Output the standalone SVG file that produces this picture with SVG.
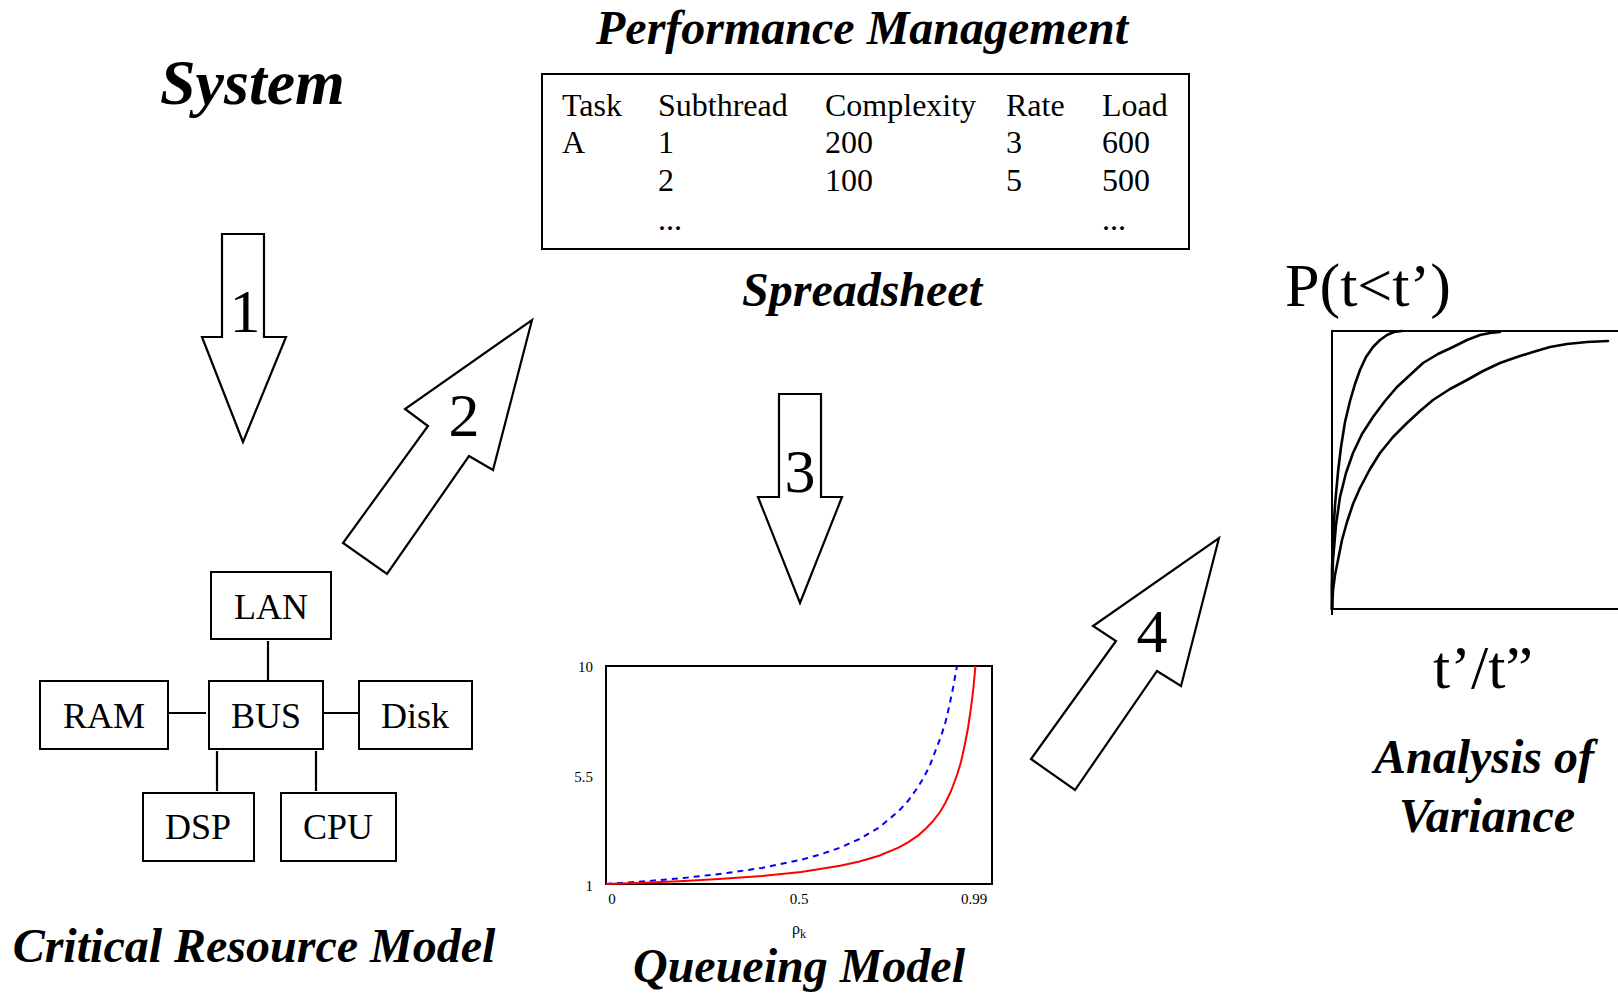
<svg xmlns="http://www.w3.org/2000/svg" width="1618" height="995" viewBox="0 0 1618 995">
<style>
text{font-family:"Liberation Serif","Times New Roman",serif;fill:#000}
.title{font-weight:bold;font-style:italic;font-size:48px;text-anchor:middle}
.box{fill:#fff;stroke:#000;stroke-width:2}
.lbl{font-size:36px;text-anchor:middle}
.tbl{font-size:32px}
.num{font-size:62px;text-anchor:middle}
.tick{font-size:15px}
.arrow{fill:#fff;stroke:#000;stroke-width:2.2;stroke-linejoin:miter}
.link{stroke:#000;stroke-width:2.2;fill:none}
.curve{fill:none;stroke:#000;stroke-width:2.6;stroke-linejoin:round;stroke-linecap:round}
.axis{fill:none;stroke:#000;stroke-width:2}
</style>
<rect width="1618" height="995" fill="#fff"/>

<g id="system-title">
<text x="160" y="104" style="font-weight:bold;font-style:italic;font-size:64px">System</text>
</g>

<g id="spreadsheet">
<text class="title" x="862" y="44">Performance Management</text>
<rect class="box" x="542" y="74" width="647" height="175"/>
<g class="tbl">
<text x="562" y="116">Task</text><text x="658" y="116">Subthread</text><text x="825" y="116">Complexity</text><text x="1006" y="116">Rate</text><text x="1102" y="116">Load</text>
<text x="562" y="153">A</text><text x="658" y="153">1</text><text x="825" y="153">200</text><text x="1006" y="153">3</text><text x="1102" y="153">600</text>
<text x="658" y="191">2</text><text x="825" y="191">100</text><text x="1006" y="191">5</text><text x="1102" y="191">500</text>
<text x="658" y="230">...</text><text x="1102" y="230">...</text>
</g>
<text class="title" x="862" y="306">Spreadsheet</text>
</g>

<g id="connectors">
<g id="step-arrows">
<polygon class="arrow" points="222,234 264,234 264,337 286,337 243,442 202,337 222,337"/>
<polygon class="arrow" points="532,320 493,470 469,456 387,574 343,543 428,426 405,409"/>
<polygon class="arrow" points="779,394 821,394 821,497 842,497 800,603 758,497 779,497"/>
<polygon class="arrow" points="1219,538 1181,686 1157,671 1075,790 1031,759 1116,641 1093,626"/>
<text class="num" x="245" y="332">1</text>
<text class="num" x="464" y="436">2</text>
<text class="num" x="800" y="492">3</text>
<text class="num" x="1152" y="652">4</text>
</g>
<g id="bus-links">
<line class="link" x1="268" y1="641" x2="268" y2="680"/>
<line class="link" x1="168" y1="713" x2="206" y2="713"/>
<line class="link" x1="324" y1="713" x2="359" y2="713"/>
<line class="link" x1="217" y1="751" x2="217" y2="791"/>
<line class="link" x1="316" y1="751" x2="316" y2="791"/>
</g>
</g>

<g id="node-lan"><rect class="box" x="211" y="572" width="120" height="67"/><text class="lbl" x="271" y="619">LAN</text></g>
<g id="node-ram"><rect class="box" x="40" y="681" width="128" height="68"/><text class="lbl" x="104" y="728">RAM</text></g>
<g id="node-bus"><rect class="box" x="209" y="681" width="114" height="68"/><text class="lbl" x="266" y="728">BUS</text></g>
<g id="node-disk"><rect class="box" x="359" y="681" width="113" height="68"/><text class="lbl" x="415" y="728">Disk</text></g>
<g id="node-dsp"><rect class="box" x="143" y="793" width="111" height="68"/><text class="lbl" x="198" y="839">DSP</text></g>
<g id="node-cpu"><rect class="box" x="281" y="793" width="115" height="68"/><text class="lbl" x="338" y="839">CPU</text></g>
<g id="crm-title"><text class="title" x="254" y="962">Critical Resource Model</text></g>

<g id="queueing-model">
<rect x="606" y="666" width="386" height="218" fill="#fff" stroke="#000" stroke-width="2"/>
<polyline fill="none" stroke="#0000ff" stroke-width="2" stroke-dasharray="6,5" points="606,884 645,881.3 684,877.9 723,873.6 762,867.9 801,859.8 820.5,854.4 840,847.7 859.5,839 879,827.5 898.5,811.3 908,801 918,787.1 924,777 929.7,765.8 935,752 941.4,735.2 945.5,722 949.2,706.4 953,688 957,666"/>
<polyline fill="none" stroke="#ff0000" stroke-width="2" points="606,884 645,882.7 684,881 723,878.8 762,875.9 801,871.9 820,869 840,865.8 859.5,861.5 879,855.7 898.5,847.7 908,842.3 918,835.6 926,828.5 933.6,820.4 940,812 945.3,803 951,791 957,775 961,762 964.8,744.7 968,728 970.7,709.8 973,692 975.5,666"/>
<g class="tick">
<text x="593" y="672" text-anchor="end">10</text>
<text x="593" y="782" text-anchor="end">5.5</text>
<text x="593" y="891" text-anchor="end">1</text>
<text x="612" y="904" text-anchor="middle">0</text>
<text x="799" y="904" text-anchor="middle">0.5</text>
<text x="974" y="904" text-anchor="middle">0.99</text>
<text x="799" y="934" text-anchor="middle" style="font-size:16px">ρ<tspan dy="4" style="font-size:12px">k</tspan></text>
</g>
<text class="title" x="799" y="982">Queueing Model</text>
</g>

<g id="variance-analysis">
<text x="1285" y="306" style="font-size:62px">P(t&lt;t’)</text>
<polyline class="axis" points="1618,331 1332,331 1332,615"/>
<line class="axis" x1="1331" y1="609" x2="1618" y2="609"/>
<polyline class="curve" points="1332,609 1332,570 1333,540 1335,505 1338,472 1341,447 1345,422 1350,401 1355,384 1360,370 1366,357 1373,347 1380,340 1387,335 1394,332 1402,331"/>
<polyline class="curve" points="1332,609 1332,585 1333,560 1336,525 1340,497 1346,473 1353,453 1362,434 1373,417 1385,401 1397,387 1410,375 1423,363 1438,354 1453,347 1467,340 1480,335 1490,333 1500,332"/>
<polyline class="curve" points="1332,609 1333,590 1335,575 1338,560 1342,540 1347,522 1353,504 1360,488 1370,469 1380,453 1393,437 1407,423 1420,411 1433,400 1450,389 1467,380 1483,371 1500,363 1517,357 1533,352 1550,347 1567,344 1587,342 1608,341"/>
<text x="1483" y="688" text-anchor="middle" style="font-size:62px">t’/t”</text>
<text class="title" x="1484" y="773">Analysis of</text>
<text class="title" x="1487" y="832">Variance</text>
</g>
</svg>
